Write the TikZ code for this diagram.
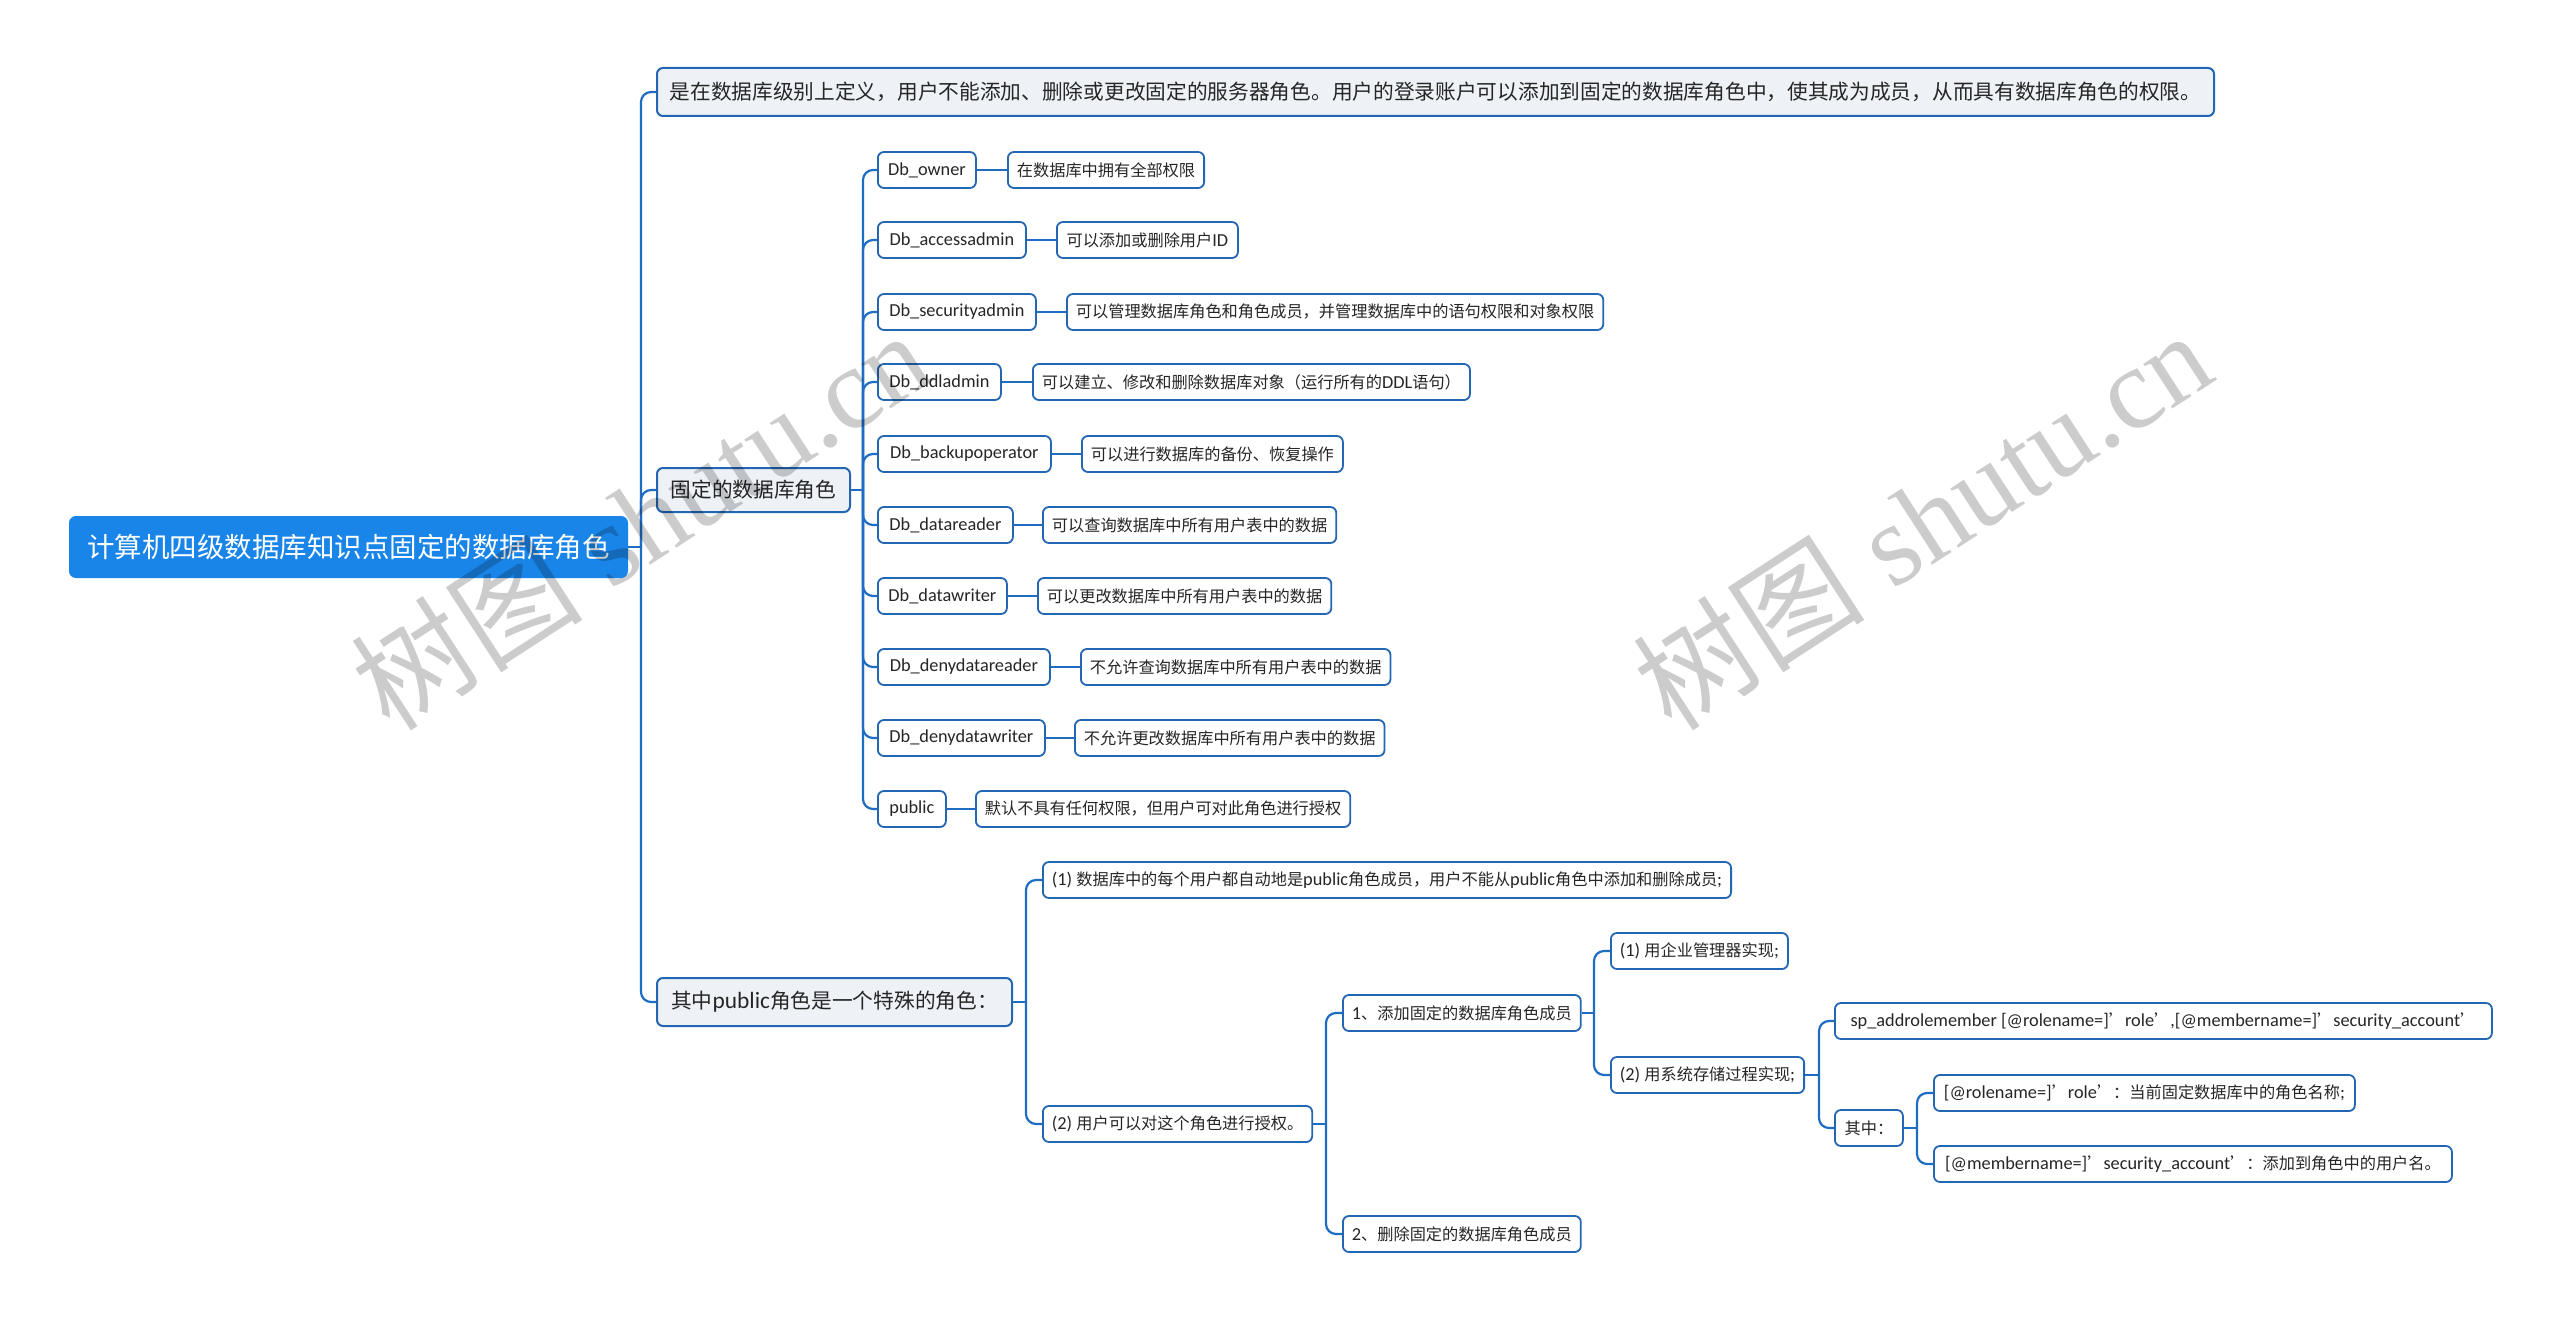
\documentclass[tikz,border=0pt]{standalone}
\usepackage{fontspec}
\setmainfont{Carlito}[Scale=1.13]
\newfontfamily\latfont{Carlito}[Scale=1.13]
\newfontfamily\cjkfont{Noto Sans CJK SC}
\newfontfamily\wmfont{Liberation Serif}
\XeTeXinterchartokenstate=1
\newXeTeXintercharclass\CJKcls
\newcount\tmpc
\tmpc="4E00
\loop
\XeTeXcharclass\tmpc=\CJKcls
\ifnum\tmpc<"9FFF \advance\tmpc by 1 \repeat
\XeTeXcharclass"3001=\CJKcls
\XeTeXcharclass"3002=\CJKcls
\XeTeXcharclass"FF0C=\CJKcls
\XeTeXcharclass"FF1A=\CJKcls
\XeTeXcharclass"FF1B=\CJKcls
\XeTeXcharclass"FF08=\CJKcls
\XeTeXcharclass"FF09=\CJKcls
\XeTeXcharclass"2018=\CJKcls
\XeTeXcharclass"2019=\CJKcls
\XeTeXinterchartoks 0 \CJKcls = {\cjkfont}
\XeTeXinterchartoks 4095 \CJKcls = {\cjkfont}
\XeTeXinterchartoks \CJKcls 0 = {\latfont}
\XeTeXinterchartoks \CJKcls 4095 = {\latfont}
\definecolor{lineblue}{HTML}{1F6DC2}
\definecolor{rootblue}{HTML}{1A85E8}
\definecolor{lvfill}{HTML}{EEF2F7}
\definecolor{bord}{HTML}{2366B3}
\definecolor{txt}{HTML}{262626}
\tikzset{
 conn/.style={draw=lineblue, line width=1.1pt, rounded corners=5pt},
 wd/.style={minimum width=#1*0.5pt},
 rootnode/.style={draw=rootblue, fill=rootblue, text=white, rounded corners=3pt, line width=1pt, minimum height=30pt, inner xsep=6pt, font=\fontsize{13.75pt}{16pt}\selectfont, anchor=west},
 lvone/.style={draw=bord, fill=lvfill, text=txt, rounded corners=3pt, line width=1pt, font=\fontsize{10.35pt}{13pt}\selectfont, inner xsep=5pt, anchor=west},
 leaf/.style={draw=bord, fill=white, text=txt, rounded corners=3pt, line width=0.9pt, minimum height=18pt, font=\fontsize{8.1pt}{10pt}\selectfont, inner xsep=4.5pt, anchor=west},
 wmark/.style={text=black, opacity=0.2, rotate=33, font=\fontsize{58pt}{60pt}\selectfont},
}
\begin{document}
\begin{tikzpicture}[x=0.5pt,y=-0.5pt]
\fill[white] (0,0) rectangle (2560,1322);
\useasboundingbox (0,0) rectangle (2560,1322);
% trunks
\coordinate (t0) at (641,0);
\coordinate (t1) at (863,0);
\coordinate (tp) at (1026,0);
\coordinate (t2) at (1326,0);
\coordinate (t3) at (1594,0);
\coordinate (t4) at (1819,0);
\coordinate (t5) at (1917,0);
% nodes
\node[rootnode, wd=557, minimum height=30pt] (root) at (69,547) {计算机四级数据库知识点固定的数据库角色};
\node[lvone, wd=1557, minimum height=24pt] (top) at (656,92) {是在数据库级别上定义，用户不能添加、删除或更改固定的服务器角色。用户的登录账户可以添加到固定的数据库角色中，使其成为成员，从而具有数据库角色的权限。};
\node[lvone, wd=193, minimum height=22pt] (fixed) at (656,490) {固定的数据库角色};
\node[lvone, wd=355, minimum height=24pt] (pub) at (656,1002) {其中public角色是一个特殊的角色：};
% db roles
\node[leaf, wd=98] (d1) at (877,170) {Db\_owner};
\node[leaf, wd=148] (d2) at (877,240) {Db\_accessadmin};
\node[leaf, wd=158] (d3) at (877,312) {Db\_securityadmin};
\node[leaf, wd=123] (d4) at (877,382) {Db\_ddladmin};
\node[leaf, wd=173] (d5) at (877,454) {Db\_backupoperator};
\node[leaf, wd=135] (d6) at (877,525) {Db\_datareader};
\node[leaf, wd=129] (d7) at (877,596) {Db\_datawriter};
\node[leaf, wd=172] (d8) at (877,667) {Db\_denydatareader};
\node[leaf, wd=167] (d9) at (877,738) {Db\_denydatawriter};
\node[leaf, wd=68] (d10) at (877,809) {public};
\node[leaf, wd=196] (e1) at (1007,170) {在数据库中拥有全部权限};
\node[leaf, wd=181] (e2) at (1056,240) {可以添加或删除用户ID};
\node[leaf, wd=533] (e3) at (1066,312) {可以管理数据库角色和角色成员，并管理数据库中的语句权限和对象权限};
\node[leaf, wd=437] (e4) at (1032,382) {可以建立、修改和删除数据库对象（运行所有的DDL语句）};
\node[leaf, wd=260] (e5) at (1081,454) {可以进行数据库的备份、恢复操作};
\node[leaf, wd=293] (e6) at (1042,525) {可以查询数据库中所有用户表中的数据};
\node[leaf, wd=293] (e7) at (1037,596) {可以更改数据库中所有用户表中的数据};
\node[leaf, wd=308] (e8) at (1080,667) {不允许查询数据库中所有用户表中的数据};
\node[leaf, wd=309] (e9) at (1074,738) {不允许更改数据库中所有用户表中的数据};
\node[leaf, wd=373] (e10) at (975,809) {默认不具有任何权限，但用户可对此角色进行授权};
% public branch
\node[leaf, wd=687] (p1) at (1042,880) {(1) 数据库中的每个用户都自动地是public角色成员，用户不能从public角色中添加和删除成员;};
\node[leaf, wd=268] (p2) at (1042,1124) {(2) 用户可以对这个角色进行授权。};
\node[leaf, wd=237] (a1) at (1342,1013) {1、添加固定的数据库角色成员};
\node[leaf, wd=237] (a2) at (1342,1234) {2、删除固定的数据库角色成员};
\node[leaf, wd=177] (b1) at (1610,951) {(1) 用企业管理器实现;};
\node[leaf, wd=193] (b2) at (1610,1075) {(2) 用系统存储过程实现;};
\node[leaf, wd=657] (c1) at (1834,1021) {sp\_addrolemember [@rolename=]’role’,[@membername=]’security\_account’};
\node[leaf, wd=68] (c2) at (1834,1128) {其中：};
\node[leaf, wd=421] (f1) at (1933,1093) {[@rolename=]’role’：当前固定数据库中的角色名称;};
\node[leaf, wd=518] (f2) at (1933,1164) {[@membername=]’security\_account’：添加到角色中的用户名。};
% connectors root
\draw[conn] (root.east) -- (root.east -| t0);
\foreach \c in {top,fixed,pub} \draw[conn] (root.east -| t0) |- (\c.west);
\draw[conn] (fixed.east) -- (fixed.east -| t1);
\foreach \c in {d1,d2,d3,d4,d5,d6,d7,d8,d9,d10} \draw[conn] (fixed.east -| t1) |- (\c.west);
\foreach \i in {1,...,10} \draw[conn] (d\i.east) -- (e\i.west);
\draw[conn] (pub.east) -- (pub.east -| tp);
\foreach \c in {p1,p2} \draw[conn] (pub.east -| tp) |- (\c.west);
\draw[conn] (p2.east) -- (p2.east -| t2);
\foreach \c in {a1,a2} \draw[conn] (p2.east -| t2) |- (\c.west);
\draw[conn] (a1.east) -- (a1.east -| t3);
\foreach \c in {b1,b2} \draw[conn] (a1.east -| t3) |- (\c.west);
\draw[conn] (b2.east) -- (b2.east -| t4);
\foreach \c in {c1,c2} \draw[conn] (b2.east -| t4) |- (\c.west);
\draw[conn] (c2.east) -- (c2.east -| t5);
\foreach \c in {f1,f2} \draw[conn] (c2.east -| t5) |- (\c.west);
% watermarks
\node[wmark] (wm1) at (640,519) {{\cjkfont 树图} {\wmfont shutu.cn}};
\node[wmark] (wm2) at (1922,519) {{\cjkfont 树图} {\wmfont shutu.cn}};
\end{tikzpicture}
\end{document}
